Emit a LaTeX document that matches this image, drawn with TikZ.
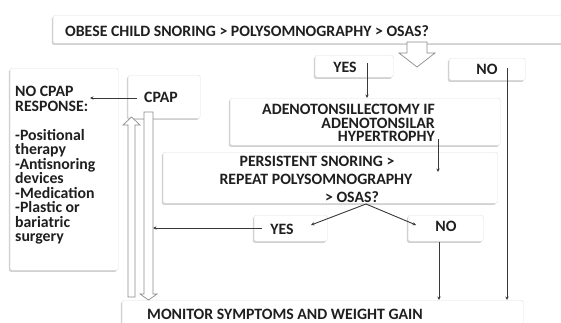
\documentclass[tikz,border=0pt]{standalone}
\usepackage{fontspec}
\setmainfont{Carlito}
\usetikzlibrary{arrows.meta,shadows}
\tikzset{
  box/.style={draw=black!12, fill=white, rounded corners=1.5pt,
    drop shadow={shadow xshift=-1.3pt, shadow yshift=-1.6pt, opacity=0.18, fill=black},
    inner sep=0pt, anchor=north west},
  lbl/.style={font=\bfseries\fontsize{15.8}{15.8}\selectfont, inner sep=0pt, text=black!88},
  arr/.style={draw=black!78, line width=0.9pt, -{Stealth[length=3.5pt,width=3.2pt]}},
  hollow/.style={draw=black!45, fill=white, line width=0.7pt, line join=miter},
}
\begin{document}
\begin{tikzpicture}[x=1pt,y=-1pt]
\useasboundingbox (0,0) rectangle (561,322);
% boxes
\node[box, minimum width=515pt, minimum height=28pt] (top) at (53,15) {};
\node[box, minimum width=78pt, minimum height=22pt] (yes1) at (315,55) {};
\node[box, minimum width=76pt, minimum height=22pt] (no1) at (449,58) {};
\node[box, minimum width=108pt, minimum height=202pt] (nocpap) at (10,68) {};
\node[box, minimum width=72pt, minimum height=43pt] (cpap) at (128,75) {};
\node[box, minimum width=270pt, minimum height=47pt] (adeno) at (230,98) {};
\node[box, minimum width=334pt, minimum height=51pt] (persist) at (163,152) {};
\node[box, minimum width=73pt, minimum height=26pt] (yes2) at (254,215) {};
\node[box, minimum width=75pt, minimum height=26pt] (no2) at (408,215) {};
\node[box, minimum width=401pt, minimum height=30pt] (monitor) at (122,300) {};
% texts
\node[lbl, anchor=west] (ttop) at (65,31) {OBESE CHILD SNORING > POLYSOMNOGRAPHY > OSAS?};
\node[lbl] (tyes1) at (345,67) {YES};
\node[lbl] (tno1) at (487,69) {NO};
\node[lbl, anchor=west] (tcpap) at (144,97) {CPAP};
\node[lbl, anchor=base west, align=left, font=\bfseries\fontsize{15.8}{14.5}\selectfont] (tnocpap) at (15,241.5)
  {NO CPAP\\RESPONSE:\\[14.5pt]-Positional\\therapy\\-Antisnoring\\devices\\-Medication\\-Plastic or\\bariatric\\surgery};
\node[lbl, anchor=base east, align=right, font=\bfseries\fontsize{15.8}{13.5}\selectfont] (tadeno) at (435,141.8)
  {ADENOTONSILLECTOMY IF\\ADENOTONSILAR\\HYPERTROPHY};
\node[lbl] (tp1) at (317,161) {PERSISTENT SNORING >};
\node[lbl] (tp2) at (316,179) {REPEAT POLYSOMNOGRAPHY};
\node[lbl] (tp3) at (352,197) {> OSAS?};
\node[lbl] (tyes2) at (282,229) {YES};
\node[lbl] (tno2) at (446,226) {NO};
\node[lbl, anchor=west] (tmon) at (147,314) {MONITOR SYMPTOMS AND WEIGHT GAIN};
% hollow arrows
\draw[hollow] (407,42) -- (427,42) -- (427,53) -- (435,53) -- (417,67) -- (399,53) -- (407,53) -- cycle;
\draw[hollow] (128,297) -- (128,125) -- (123,125) -- (131.5,117) -- (140,125) -- (135,125) -- (135,297) -- cycle;
\draw[hollow] (144,112) -- (153,112) -- (153,294) -- (157,294) -- (148.5,300) -- (140,294) -- (144,294) -- cycle;
% connectors
\coordinate (c1) at (367,63);
\draw[arr] (c1) -- (c1 |- adeno.north);
\coordinate (c2) at (507,68);
\draw[arr] (c2) -- (c2 |- monitor.north);
\coordinate (c3) at (137,98);
\coordinate (c3e) at (90,98);
\draw[arr] (c3) -- (c3e);
\coordinate (c4) at (438,139);
\coordinate (c4e) at (438,172);
\draw[arr] (c4) -- (c4e);
\coordinate (apex) at (366,204);
\coordinate (ayes) at (311,225);
\coordinate (ano) at (416,225);
\draw[arr] (apex) -- (ayes);
\draw[arr] (apex) -- (ano);
\coordinate (c5) at (262,228);
\coordinate (c5e) at (153,228);
\draw[arr] (c5) -- (c5e);
\coordinate (c6) at (439,242);
\draw[arr] (c6) -- (c6 |- monitor.north);
\end{tikzpicture}
\end{document}
